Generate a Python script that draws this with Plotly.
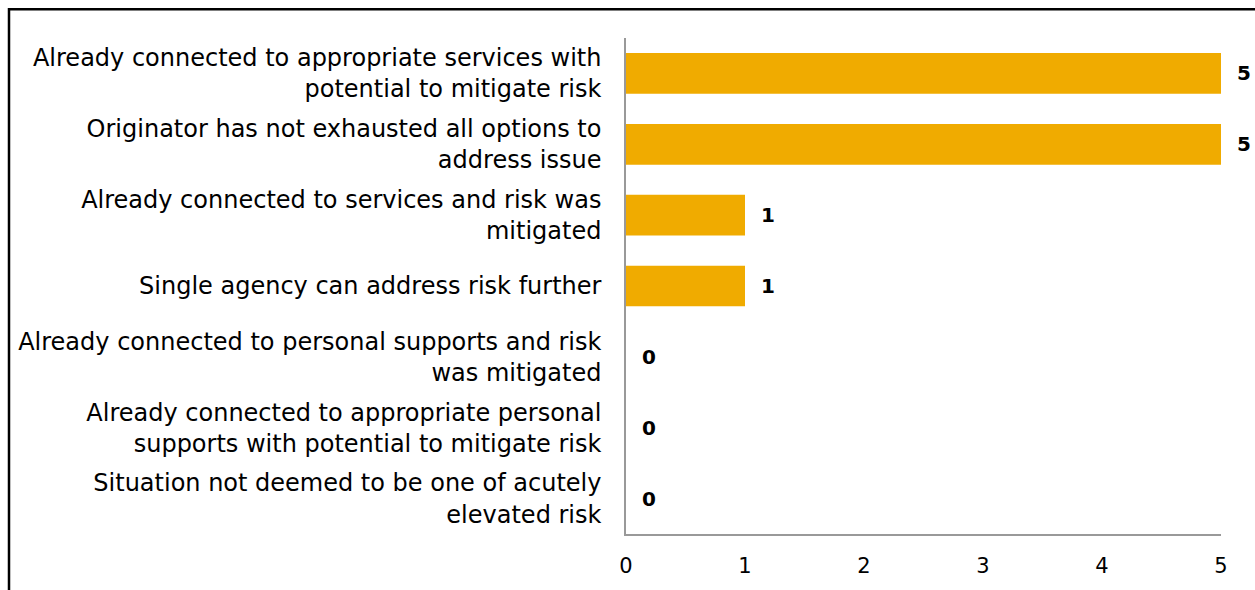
import plotly.graph_objects as go

categories = [
    "Already connected to appropriate services with<br>potential to mitigate risk",
    "Originator has not exhausted all options to<br>address issue",
    "Already connected to services and risk was<br>mitigated",
    "Single agency can address risk further",
    "Already connected to personal supports and risk<br>was mitigated",
    "Already connected to appropriate personal<br>supports with potential to mitigate risk",
    "Situation not deemed to be one of acutely<br>elevated risk",
]
counts = [5, 5, 1, 1, 0, 0, 0]
x_ticks = [0, 1, 2, 3, 4, 5]

W, H = 1255, 590
ML, MR, MT, MB = 626, 34, 38, 53
FONT = "DejaVu Sans"
BAR = "#F0AB00"

fig = go.Figure(
    go.Bar(
        x=counts,
        y=categories,
        orientation="h",
        marker=dict(color=BAR, line=dict(width=0)),
        width=0.575,
        hoverinfo="skip",
    )
)

for c, v in zip(categories, counts):
    fig.add_annotation(
        x=v, y=c, text=f"<b>{v}</b>", showarrow=False,
        xanchor="left", xshift=14,
        font=dict(family=FONT, size=20, color="#000000"),
    )

# frame around the chart area
pw, ph = W - ML - MR, H - MT - MB
def px_x(p):
    return (p - ML) / pw
def px_y(p):
    return (H - MB - p) / ph

fig.add_shape(
    type="rect", xref="paper", yref="paper",
    x0=px_x(9), x1=px_x(W + 50), y0=px_y(H + 50), y1=px_y(9),
    line=dict(color="#000000", width=2.5), fillcolor="rgba(0,0,0,0)",
    layer="above",
)

fig.update_layout(
    width=W, height=H,
    margin=dict(l=ML, r=MR, t=MT, b=MB, pad=0),
    plot_bgcolor="#FFFFFF", paper_bgcolor="#FFFFFF",
    showlegend=False,
    font=dict(family=FONT, color="#000000"),
)
fig.update_xaxes(
    range=[0, 5], tickvals=x_ticks, showgrid=False, zeroline=False,
    showline=True, linecolor="#999999", linewidth=1.5,
    ticks="outside", ticklen=12, tickcolor="rgba(0,0,0,0)",
    tickfont=dict(family=FONT, size=21, color="#000000"),
)
fig.update_yaxes(
    autorange="reversed", showgrid=False, zeroline=False,
    showline=True, linecolor="#999999", linewidth=1.5,
    ticks="outside", ticklen=18, tickcolor="rgba(0,0,0,0)",
    tickfont=dict(family=FONT, size=24, color="#000000"),
)

fig.write_html("out.html")
